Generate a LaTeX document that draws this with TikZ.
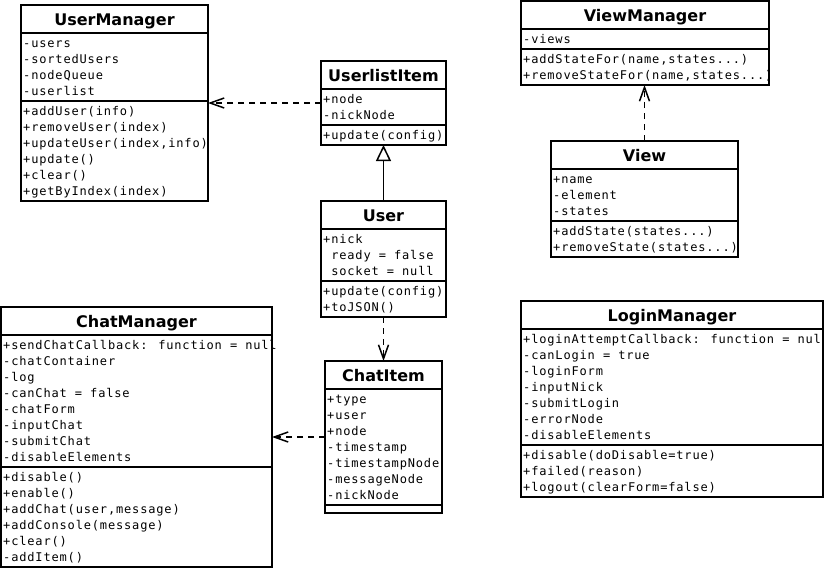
\documentclass[tikz,border=0pt]{standalone}
\usepackage{fontspec}
\setmainfont{DejaVu Sans}
\newfontfamily\membfont{DejaVu Sans Mono}[LetterSpace=7]
\usetikzlibrary{calc}
\usetikzlibrary{arrows.meta}
\tikzset{>={Straight Barb[length=14pt,width=10pt]}}
\tikzset{
  classbox/.style={draw,line width=1.5,fill=white,anchor=north west,inner sep=0,outer sep=0},
  classtitle/.style={anchor=base,inner sep=0,font=\fontsize{16}{18}\selectfont\bfseries},
  classline/.style={line width=1.5},
  members/.style={anchor=north west,inner sep=0,align=left,font=\membfont\fontsize{12}{16}\selectfont},
  dep/.style={->,line width=1.5,dash pattern=on 6pt off 5pt},
  inherit/.style={-{Triangle[open,length=16pt,width=15pt]},line width=1.5},
}
\newcommand\mstrut{\rule[-4pt]{0pt}{16pt}}
% #1 name, #2 top left, #3 width, #4 title, #5/#6 attributes, #7/#8 methods
\newcommand\umlClass[8]{
  \pgfmathsetmacro\hAttr{16*#5+4}
  \pgfmathsetmacro\hMeth{max(16*#7+4,8)}
  \node[classbox,minimum width=#3,minimum height=28+\hAttr+\hMeth] (#1) at (#2) {};
  \node[classtitle] (#1-title) at ($(#1.north)+(0,20)$) {#4};
  \draw[classline] ($(#1.north west)+(0,28)$) -- ($(#1.north east)+(0,28)$);
  \draw[classline] ($(#1.north west)+(0,28+\hAttr)$) -- ($(#1.north east)+(0,28+\hAttr)$);
  \node[members] (#1-attr) at ($(#1.north west)+(2,30)$) {\mstrut#6};
  \node[members] (#1-meth) at ($(#1.north west)+(2,30+\hAttr)$) {\mstrut#8};
}

\begin{document}
\begin{tikzpicture}[x=1pt,y=-1pt]
  \useasboundingbox[fill=white] (0,0) rectangle (824,568);

  \umlClass{UserManager}{21,5}{187}{UserManager}
    {4}{-users\\-sortedUsers\\-nodeQueue\\-userlist}
    {6}{+addUser(info)\\+removeUser(index)\\+updateUser(index,info)\\+update()\\+clear()\\+getByIndex(index)}
  \umlClass{UserlistItem}{321,61}{125}{UserlistItem}
    {2}{+node\\-nickNode}
    {1}{+update(config)}
  \umlClass{User}{321,201}{125}{User}
    {3}{+nick\\~ready = false\\~socket = null}
    {2}{+update(config)\\+toJSON()}
  \umlClass{ViewManager}{521,1}{248}{ViewManager}
    {1}{-views}
    {2}{+addStateFor(name,states...)\\+removeStateFor(name,states...)}
  \umlClass{View}{551,141}{187}{View}
    {3}{+name\\-element\\-states}
    {2}{+addState(states...)\\+removeState(states...)}
  \umlClass{ChatManager}{1,307}{271}{ChatManager}
    {8}{+sendChatCallback: function = null\\-chatContainer\\-log\\-canChat = false\\-chatForm\\-inputChat\\-submitChat\\-disableElements}
    {6}{+disable()\\+enable()\\+addChat(user,message)\\+addConsole(message)\\+clear()\\-addItem()}
  \umlClass{ChatItem}{325,361}{117}{ChatItem}
    {7}{+type\\+user\\+node\\-timestamp\\-timestampNode\\-messageNode\\-nickNode}
    {0}{}
  \umlClass{LoginManager}{521,301}{302}{LoginManager}
    {7}{+loginAttemptCallback: function = null\\-canLogin = true\\-loginForm\\-inputNick\\-submitLogin\\-errorNode\\-disableElements}
    {3}{+disable(doDisable=true)\\+failed(reason)\\+logout(clearForm=false)}

  \draw[dep] (UserlistItem.west) -- (UserManager.east);
  \draw[inherit] (User.north) -- (UserlistItem.south);
  \draw[dep] (View.north) -- (View.north |- ViewManager.south);
  \draw[dep] (User.south) -- (ChatItem.north);
  \draw[dep] (ChatItem.west) -- (ChatManager.east);
\end{tikzpicture}
\end{document}
